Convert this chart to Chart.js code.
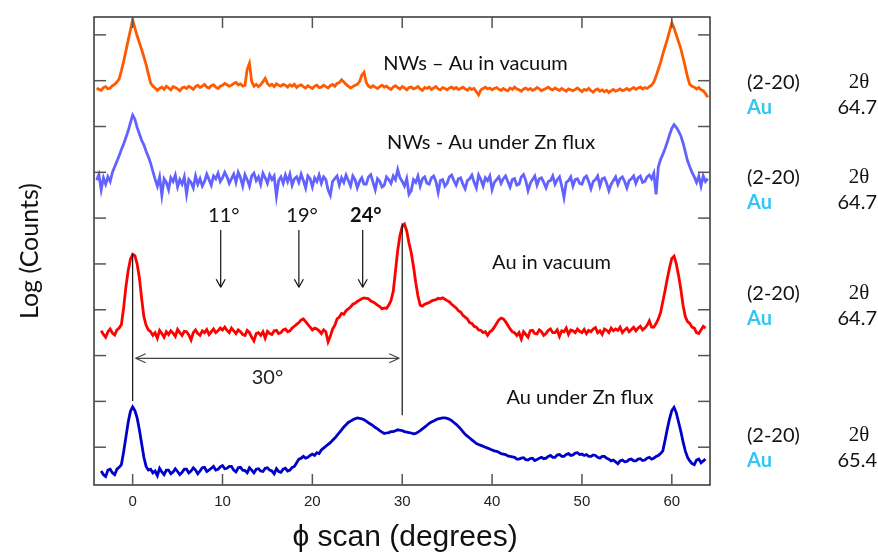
<!DOCTYPE html>
<html>
<head>
<meta charset="utf-8">
<script src="https://cdn.jsdelivr.net/npm/chart.js@4.4.1/dist/chart.umd.min.js"></script>
<style>
  html, body { margin: 0; padding: 0; background: #fff; }
  #wrap { width: 878px; height: 553px; }
</style>
</head>
<body>
<div id="wrap"><canvas id="chart"></canvas></div>
<script>
// phi (degrees), one reading every 0.25 deg
const phi = [
  -4, -3.75, -3.5, -3.25, -3, -2.75, -2.5, -2.25, -2, -1.75, -1.5, -1.25, -1, -0.75, -0.5, -0.25, 0, 0.25, 0.5, 0.75,
  1, 1.25, 1.5, 1.75, 2, 2.25, 2.5, 2.75, 3, 3.25, 3.5, 3.75, 4, 4.25, 4.5, 4.75, 5, 5.25, 5.5, 5.75,
  6, 6.25, 6.5, 6.75, 7, 7.25, 7.5, 7.75, 8, 8.25, 8.5, 8.75, 9, 9.25, 9.5, 9.75, 10, 10.25, 10.5, 10.75,
  11, 11.25, 11.5, 11.75, 12, 12.25, 12.5, 12.75, 13, 13.25, 13.5, 13.75, 14, 14.25, 14.5, 14.75, 15, 15.25, 15.5, 15.75,
  16, 16.25, 16.5, 16.75, 17, 17.25, 17.5, 17.75, 18, 18.25, 18.5, 18.75, 19, 19.25, 19.5, 19.75, 20, 20.25, 20.5, 20.75,
  21, 21.25, 21.5, 21.75, 22, 22.25, 22.5, 22.75, 23, 23.25, 23.5, 23.75, 24, 24.25, 24.5, 24.75, 25, 25.25, 25.5, 25.75,
  26, 26.25, 26.5, 26.75, 27, 27.25, 27.5, 27.75, 28, 28.25, 28.5, 28.75, 29, 29.25, 29.5, 29.75, 30, 30.25, 30.5, 30.75,
  31, 31.25, 31.5, 31.75, 32, 32.25, 32.5, 32.75, 33, 33.25, 33.5, 33.75, 34, 34.25, 34.5, 34.75, 35, 35.25, 35.5, 35.75,
  36, 36.25, 36.5, 36.75, 37, 37.25, 37.5, 37.75, 38, 38.25, 38.5, 38.75, 39, 39.25, 39.5, 39.75, 40, 40.25, 40.5, 40.75,
  41, 41.25, 41.5, 41.75, 42, 42.25, 42.5, 42.75, 43, 43.25, 43.5, 43.75, 44, 44.25, 44.5, 44.75, 45, 45.25, 45.5, 45.75,
  46, 46.25, 46.5, 46.75, 47, 47.25, 47.5, 47.75, 48, 48.25, 48.5, 48.75, 49, 49.25, 49.5, 49.75, 50, 50.25, 50.5, 50.75,
  51, 51.25, 51.5, 51.75, 52, 52.25, 52.5, 52.75, 53, 53.25, 53.5, 53.75, 54, 54.25, 54.5, 54.75, 55, 55.25, 55.5, 55.75,
  56, 56.25, 56.5, 56.75, 57, 57.25, 57.5, 57.75, 58, 58.25, 58.5, 58.75, 59, 59.25, 59.5, 59.75, 60, 60.25, 60.5, 60.75,
  61, 61.25, 61.5, 61.75, 62, 62.25, 62.5, 62.75, 63, 63.25, 63.5, 63.75, 64
];

// log counts, each curve shifted up in the stack
const nwVacuum = [
  8.84, 8.81, 8.79, 8.85, 8.87, 8.82, 8.84, 8.89, 8.92, 8.97, 9.04, 9.22, 9.42, 9.65, 9.88, 10.10, 10.33, 10.15, 9.98, 9.83,
  9.68, 9.52, 9.35, 9.15, 8.95, 8.88, 8.84, 8.79, 8.83, 8.86, 8.81, 8.88, 8.84, 8.80, 8.87, 8.85, 8.82, 8.78, 8.84, 8.86,
  8.83, 8.88, 8.85, 8.81, 8.87, 8.90, 8.85, 8.88, 8.92, 8.86, 8.84, 8.89, 8.91, 8.86, 8.83, 8.88, 8.90, 8.94, 8.91, 8.88,
  8.90, 8.94, 8.96, 8.91, 8.93, 8.88, 8.90, 9.25, 9.38, 8.98, 8.88, 8.92, 8.87, 8.91, 8.98, 9.05, 8.94, 8.89, 8.92, 8.87,
  8.93, 8.90, 8.88, 8.92, 8.90, 8.86, 8.91, 8.88, 8.92, 8.85, 8.89, 8.91, 8.87, 8.84, 8.89, 8.86, 8.83, 8.88, 8.90, 8.85,
  8.86, 8.90, 8.87, 8.84, 8.89, 8.92, 8.88, 8.94, 8.96, 9.02, 8.97, 8.92, 8.88, 8.84, 8.87, 8.90, 8.92, 8.98, 9.12, 9.18,
  8.96, 8.88, 8.85, 8.89, 8.86, 8.83, 8.87, 8.90, 8.86, 8.88, 8.84, 8.81, 8.86, 8.89, 8.85, 8.82, 8.87, 8.84, 8.80, 8.85,
  8.86, 8.82, 8.84, 8.87, 8.82, 8.79, 8.85, 8.83, 8.86, 8.81, 8.84, 8.87, 8.82, 8.80, 8.85, 8.83, 8.80, 8.84, 8.86, 8.82,
  8.85, 8.81, 8.83, 8.86, 8.82, 8.79, 8.84, 8.81, 8.83, 8.76, 8.69, 8.80, 8.83, 8.86, 8.82, 8.84, 8.80, 8.83, 8.85, 8.81,
  8.79, 8.83, 8.80, 8.78, 8.84, 8.81, 8.86, 8.82, 8.80, 8.77, 8.82, 8.84, 8.80, 8.83, 8.79, 8.81, 8.85, 8.82, 8.78, 8.81,
  8.83, 8.86, 8.82, 8.80, 8.84, 8.81, 8.79, 8.83, 8.80, 8.77, 8.82, 8.80, 8.78, 8.81, 8.84, 8.80, 8.76, 8.81, 8.79, 8.83,
  8.78, 8.75, 8.80, 8.82, 8.77, 8.80, 8.76, 8.79, 8.74, 8.78, 8.81, 8.77, 8.79, 8.82, 8.78, 8.80, 8.83, 8.79, 8.82, 8.85,
  8.81, 8.84, 8.86, 8.82, 8.85, 8.83, 8.87, 8.90, 8.97, 9.10, 9.25, 9.40, 9.58, 9.74, 9.90, 10.08, 10.26, 10.15, 10.00, 9.85,
  9.70, 9.50, 9.30, 9.08, 8.92, 8.88, 8.86, 8.82, 8.85, 8.80, 8.78, 8.72, 8.64
];

const nwZnFlux = [
  6.83, 6.95, 6.62, 6.88, 6.74, 6.90, 6.80, 7.00, 7.12, 7.24, 7.36, 7.50, 7.62, 7.76, 7.90, 8.08, 8.25, 8.16, 7.98, 7.84,
  7.70, 7.60, 7.46, 7.34, 7.20, 7.02, 6.85, 6.70, 6.90, 6.50, 6.86, 6.78, 6.62, 6.88, 6.80, 6.94, 6.68, 6.84, 6.74, 6.90,
  6.52, 6.84, 6.78, 6.66, 6.92, 6.74, 6.86, 6.70, 6.80, 6.96, 6.84, 6.72, 6.92, 6.86, 6.98, 6.80, 6.88, 7.00, 6.90, 6.76,
  6.86, 6.96, 6.78, 7.00, 6.88, 6.70, 6.95, 6.84, 6.70, 6.92, 6.98, 6.82, 6.90, 6.74, 6.98, 6.88, 6.76, 6.94, 6.84, 6.92,
  6.48, 6.82, 6.90, 6.76, 6.94, 6.80, 6.96, 6.72, 6.86, 6.90, 6.78, 6.96, 6.82, 6.66, 6.92, 6.86, 6.68, 6.88, 6.80, 6.94,
  6.76, 6.90, 6.84, 6.62, 6.50, 6.80, 6.86, 6.92, 6.72, 6.88, 6.78, 6.94, 6.82, 6.70, 6.92, 6.84, 6.66, 6.80, 6.88, 6.74,
  6.74, 6.90, 6.95, 6.78, 6.62, 6.86, 6.80, 6.68, 6.72, 6.90, 6.84, 6.76, 6.92, 6.84, 7.06, 6.88, 6.80, 6.70, 6.86, 6.52,
  6.60, 6.84, 6.78, 6.92, 6.70, 6.86, 6.90, 6.76, 6.74, 6.88, 6.92, 6.80, 6.56, 6.82, 6.84, 6.70, 6.76, 6.90, 6.94, 6.82,
  6.72, 6.86, 6.88, 6.74, 6.64, 6.82, 6.86, 6.94, 6.78, 6.66, 6.94, 6.84, 6.70, 6.88, 6.82, 6.92, 6.62, 6.78, 6.84, 6.90,
  6.76, 6.86, 6.92, 6.80, 6.68, 6.84, 6.86, 6.72, 6.74, 6.90, 6.95, 6.82, 6.60, 6.76, 6.84, 6.92, 6.72, 6.86, 6.88, 6.78,
  6.66, 6.80, 6.82, 6.92, 6.74, 6.84, 6.90, 6.70, 6.45, 6.78, 6.82, 6.90, 6.70, 6.84, 6.86, 6.76, 6.74, 6.88, 6.92, 6.80,
  6.64, 6.80, 6.84, 6.92, 6.70, 6.86, 6.88, 6.76, 6.60, 6.74, 6.82, 6.90, 6.74, 6.86, 6.90, 6.80, 6.66, 6.82, 6.86, 6.92,
  6.76, 6.88, 6.92, 6.78, 6.80, 6.90, 6.94, 6.86, 6.98, 6.52, 7.12, 7.28, 7.39, 7.52, 7.66, 7.82, 7.96, 8.04, 7.98, 7.90,
  7.80, 7.64, 7.45, 7.25, 7.12, 7.00, 6.90, 6.78, 6.92, 6.70, 6.92, 6.80, 6.86
];

const auVacuum = [
  null, null, 3.54, 3.46, 3.40, 3.52, 3.58, 3.49, 3.45, 3.56, 3.60, 3.68, 4.05, 4.50, 4.85, 5.10, 5.21, 5.18, 5.00, 4.70,
  4.25, 3.85, 3.66, 3.56, 3.52, 3.44, 3.50, 3.38, 3.55, 3.48, 3.40, 3.52, 3.46, 3.54, 3.49, 3.42, 3.57, 3.50, 3.44, 3.53,
  3.52, 3.45, 3.34, 3.50, 3.56, 3.48, 3.44, 3.54, 3.50, 3.57, 3.46, 3.52, 3.58, 3.50, 3.54, 3.60, 3.56, 3.62, 3.55, 3.50,
  3.60, 3.54, 3.48, 3.56, 3.52, 3.46, 3.44, 3.55, 3.50, 3.40, 3.32, 3.48, 3.50, 3.44, 3.52, 3.38, 3.53, 3.48, 3.46, 3.54,
  3.55, 3.48, 3.50, 3.56, 3.58, 3.52, 3.54, 3.60, 3.64, 3.68, 3.72, 3.78, 3.80, 3.74, 3.68, 3.62, 3.56, 3.60, 3.58, 3.54,
  3.48, 3.56, 3.52, 3.30, 3.42, 3.58, 3.66, 3.80, 3.84, 3.92, 3.90, 3.98, 4.02, 4.06, 4.12, 4.14, 4.18, 4.21, 4.24, 4.26,
  4.25, 4.24, 4.19, 4.17, 4.14, 4.10, 4.07, 4.02, 4.04, 4.03, 4.10, 4.20, 4.40, 4.85, 5.30, 5.62, 5.82, 5.87, 5.72, 5.46,
  5.25, 4.95, 4.60, 4.30, 4.10, 4.08, 4.12, 4.14, 4.16, 4.19, 4.21, 4.22, 4.25, 4.24, 4.26, 4.23, 4.20, 4.17, 4.12, 4.08,
  4.04, 3.98, 3.95, 3.88, 3.84, 3.80, 3.72, 3.70, 3.64, 3.62, 3.56, 3.55, 3.50, 3.52, 3.44, 3.52, 3.55, 3.62, 3.70, 3.78,
  3.82, 3.80, 3.74, 3.66, 3.58, 3.52, 3.50, 3.44, 3.50, 3.36, 3.52, 3.46, 3.40, 3.54, 3.55, 3.48, 3.47, 3.56, 3.52, 3.44,
  3.48, 3.55, 3.58, 3.50, 3.50, 3.56, 3.42, 3.54, 3.52, 3.60, 3.46, 3.56, 3.54, 3.50, 3.58, 3.53, 3.50, 3.57, 3.48, 3.55,
  3.52, 3.58, 3.61, 3.50, 3.54, 3.46, 3.58, 3.55, 3.50, 3.60, 3.54, 3.58, 3.55, 3.62, 3.50, 3.56, 3.60, 3.52, 3.57, 3.62,
  3.54, 3.60, 3.64, 3.56, 3.60, 3.66, 3.76, 3.62, 3.62, 3.70, 3.80, 3.94, 4.18, 4.42, 4.68, 4.92, 5.12, 5.17, 5.00, 4.75,
  4.45, 4.10, 3.85, 3.74, 3.70, 3.62, 3.60, 3.50, 3.48, 3.56, 3.64, 3.60, null
];

const auZnFlux = [
  null, null, 0.48, 0.40, 0.36, 0.50, 0.52, 0.44, 0.40, 0.52, 0.56, 0.62, 0.90, 1.22, 1.54, 1.78, 1.88, 1.80, 1.64, 1.38,
  1.08, 0.78, 0.58, 0.50, 0.52, 0.44, 0.48, 0.38, 0.54, 0.46, 0.40, 0.50, 0.50, 0.42, 0.46, 0.53, 0.47, 0.40, 0.45, 0.52,
  0.52, 0.44, 0.48, 0.55, 0.50, 0.42, 0.48, 0.55, 0.56, 0.47, 0.50, 0.54, 0.58, 0.50, 0.52, 0.57, 0.60, 0.53, 0.54, 0.58,
  0.58, 0.50, 0.46, 0.55, 0.56, 0.50, 0.49, 0.44, 0.55, 0.50, 0.44, 0.52, 0.53, 0.48, 0.47, 0.54, 0.55, 0.50, 0.48, 0.42,
  0.53, 0.47, 0.45, 0.52, 0.54, 0.48, 0.50, 0.56, 0.58, 0.66, 0.74, 0.76, 0.80, 0.76, 0.78, 0.82, 0.85, 0.82, 0.88, 0.86,
  0.94, 0.98, 1.02, 1.06, 1.10, 1.15, 1.20, 1.26, 1.32, 1.38, 1.44, 1.49, 1.54, 1.57, 1.60, 1.62, 1.64, 1.63, 1.62, 1.60,
  1.57, 1.53, 1.50, 1.47, 1.43, 1.40, 1.36, 1.33, 1.30, 1.31, 1.32, 1.34, 1.34, 1.36, 1.38, 1.37, 1.36, 1.34, 1.33, 1.32,
  1.31, 1.29, 1.30, 1.33, 1.36, 1.40, 1.44, 1.48, 1.52, 1.55, 1.57, 1.60, 1.62, 1.63, 1.64, 1.64, 1.63, 1.61, 1.58, 1.54,
  1.50, 1.45, 1.40, 1.34, 1.28, 1.24, 1.20, 1.16, 1.12, 1.08, 1.06, 1.04, 1.02, 1.00, 0.98, 0.96, 0.94, 0.92, 0.91, 0.89,
  0.86, 0.85, 0.84, 0.81, 0.80, 0.79, 0.78, 0.74, 0.74, 0.76, 0.77, 0.73, 0.72, 0.75, 0.76, 0.71, 0.73, 0.76, 0.78, 0.75,
  0.76, 0.80, 0.82, 0.78, 0.78, 0.83, 0.84, 0.80, 0.80, 0.84, 0.86, 0.82, 0.83, 0.87, 0.88, 0.84, 0.85, 0.82, 0.84, 0.80,
  0.80, 0.83, 0.82, 0.78, 0.76, 0.80, 0.80, 0.76, 0.74, 0.70, 0.72, 0.68, 0.64, 0.70, 0.72, 0.68, 0.69, 0.73, 0.74, 0.70,
  0.70, 0.74, 0.75, 0.71, 0.72, 0.76, 0.78, 0.74, 0.76, 0.80, 0.82, 0.86, 0.92, 1.15, 1.40, 1.62, 1.80, 1.87, 1.75, 1.55,
  1.35, 1.12, 0.92, 0.78, 0.70, 0.64, 0.62, 0.72, 0.74, 0.66, 0.70, 0.74, null
];

const xTicks = [0, 10, 20, 30, 40, 50, 60];
const yTicks = [1, 2, 3, 4, 5, 6, 7, 8, 9, 10];

// curve captions (data coordinates of their left/middle point)
const captions = [
  { text: 'NWs \u2013 Au in vacuum', x: 27.9, y: 9.37 },
  { text: 'NWs - Au under Zn flux', x: 28.3, y: 7.64 },
  { text: 'Au in vacuum', x: 40.0, y: 5.03 },
  { text: 'Au under Zn flux', x: 41.6, y: 2.08 }
];
const peakArrows = [
  { text: '11°', at: 9.8, bold: false },
  { text: '19°', at: 18.5, bold: false },
  { text: '24°', at: 25.6, bold: true }
];

// right hand side: reflection and 2-theta for each curve
const sideRows = [8.97, 6.89, 4.36, 1.25];
const twoTheta = ['64.7', '64.7', '64.7', '65.4'];

const toPoints = vals => phi.map((x, i) => ({ x: x, y: vals[i] }));

const line = (ctx, x1, y1, x2, y2) => {
    ctx.beginPath();
    ctx.moveTo(x1, y1);
    ctx.lineTo(x2, y2);
    ctx.stroke();
};

const decorations = {
    id: 'decorations',
    afterDraw(chart) {
        const { ctx, chartArea: a, scales: { x, y } } = chart;
        ctx.save();

        // frame + inward ticks
        ctx.strokeStyle = '#333';
        ctx.lineWidth = 1.5;
        ctx.strokeRect(a.left, a.top, a.right - a.left, a.bottom - a.top);
        ctx.strokeStyle = '#555';
        x.ticks.forEach(t => {
            const px = x.getPixelForValue(t.value);
            line(ctx, px, a.top, px, a.top + 11);
            line(ctx, px, a.bottom, px, a.bottom - 11);
        });
        y.ticks.forEach(t => {
            const py = y.getPixelForValue(t.value);
            line(ctx, a.left, py, a.left + 12, py);
            line(ctx, a.right, py, a.right - 12, py);
        });

        // captions
        ctx.fillStyle = '#111';
        ctx.textBaseline = 'middle';
        ctx.textAlign = 'left';
        ctx.font = '20px Lato';
        captions.forEach(c => ctx.fillText(c.text, x.getPixelForValue(c.x), y.getPixelForValue(c.y)));

        // peak arrows
        ctx.strokeStyle = '#111';
        ctx.lineWidth = 1.2;
        peakArrows.forEach(p => {
            const px = x.getPixelForValue(p.at);
            const top = y.getPixelForValue(5.74);
            const tip = y.getPixelForValue(4.49);
            line(ctx, px, top, px, tip);
            line(ctx, px - 4.5, tip - 8, px, tip);
            line(ctx, px + 4.5, tip - 8, px, tip);
            ctx.textAlign = 'center';
            ctx.font = (p.bold ? 'bold ' : '') + '20px Lato';
            ctx.fillText(p.text, x.getPixelForValue(p.at + 0.35), y.getPixelForValue(6.06));
        });

        // 30 degree spacing
        const x0 = x.getPixelForValue(0), x30 = x.getPixelForValue(30);
        ctx.strokeStyle = '#111';
        ctx.lineWidth = 1.2;
        line(ctx, x0, y.getPixelForValue(5.22), x0, y.getPixelForValue(2.01));
        line(ctx, x30, y.getPixelForValue(5.89), x30, y.getPixelForValue(1.70));
        const ya = y.getPixelForValue(2.94);
        ctx.strokeStyle = '#444';
        line(ctx, x0 + 3, ya, x30 - 3, ya);
        line(ctx, x0 + 13, ya - 4.5, x0 + 3, ya);
        line(ctx, x0 + 13, ya + 4.5, x0 + 3, ya);
        line(ctx, x30 - 13, ya - 4.5, x30 - 3, ya);
        line(ctx, x30 - 13, ya + 4.5, x30 - 3, ya);
        ctx.textAlign = 'center';
        ctx.font = '20px Lato';
        ctx.fillStyle = '#222';
        ctx.fillText('30°', x.getPixelForValue(15), y.getPixelForValue(2.52));

        // side labels
        sideRows.forEach((v, i) => {
            const py = y.getPixelForValue(v);
            ctx.fillStyle = '#111';
            ctx.textAlign = 'left';
            ctx.font = '20px Lato';
            ctx.fillText('(2-20)', a.right + 37, py);
            ctx.textAlign = 'right';
            ctx.fillText(twoTheta[i], chart.width - 1, py + 25);
            ctx.textAlign = 'center';
            ctx.font = '21px "Liberation Serif"';
            ctx.fillText('2θ', a.right + 149, py);
            ctx.textAlign = 'left';
            ctx.font = 'bold 20px Lato';
            ctx.fillStyle = '#33c6f4';
            ctx.fillText('Au', a.right + 37, py + 25);
        });

        // axis titles
        ctx.fillStyle = '#111';
        ctx.textAlign = 'center';
        ctx.font = '30px "Liberation Sans"';
        ctx.fillText('\u03d5 scan (degrees)', (a.left + a.right) / 2 + 3, 538);
        ctx.save();
        ctx.translate(30, (a.top + a.bottom) / 2);
        ctx.rotate(-Math.PI / 2);
        ctx.font = '25px Lato';
        ctx.fillText('Log (Counts)', 0, 0);
        ctx.restore();

        ctx.restore();
    }
};

const series = (data, color) => ({
    data: toPoints(data),
    borderColor: color,
    borderWidth: 2.8,
    pointRadius: 0,
    tension: 0,
    fill: false,
    spanGaps: false
});

new Chart(document.getElementById('chart'), {
    type: 'line',
    data: {
        datasets: [
            series(nwVacuum, '#ff5a00'),
            series(nwZnFlux, '#6262ff'),
            series(auVacuum, '#ff0000'),
            series(auZnFlux, '#0000c8')
        ]
    },
    options: {
        responsive: true,
        maintainAspectRatio: false,
        animation: false,
        layout: { padding: { left: 94, right: 168, top: 17, bottom: 34 } },
        plugins: { legend: { display: false }, tooltip: { enabled: false } },
        scales: {
            x: {
                type: 'linear',
                min: -4.3,
                max: 64.25,
                afterBuildTicks: s => { s.ticks = xTicks.map(v => ({ value: v })); },
                grid: { display: false, drawTicks: false },
                border: { display: false },
                ticks: {
                    padding: 8,
                    color: '#222',
                    font: { family: 'Liberation Sans', size: 15 }
                }
            },
            y: {
                type: 'linear',
                min: 0.175,
                max: 10.39,
                afterBuildTicks: s => { s.ticks = yTicks.map(v => ({ value: v })); },
                grid: { display: false, drawTicks: false },
                border: { display: false },
                ticks: { display: false }
            }
        }
    },
    plugins: [decorations]
});
</script>
</body>
</html>
